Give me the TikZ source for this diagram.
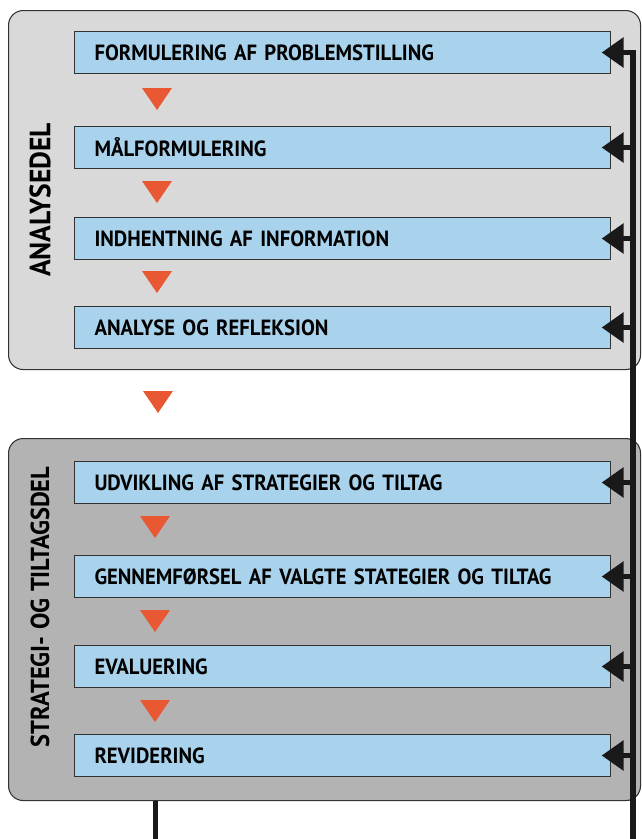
\documentclass[tikz,border=0pt]{standalone}
\usepackage{fontspec}
\setmainfont{PT Sans}[FakeStretch=0.94,WordSpace=0.6]
\usetikzlibrary{arrows.meta}
\definecolor{P1}{RGB}{217,217,217}
\definecolor{P2}{RGB}{179,179,179}
\definecolor{B1}{RGB}{169,211,236}
\definecolor{O1}{RGB}{232,88,50}
\definecolor{E1}{RGB}{50,50,50}

\begin{document}
\begin{tikzpicture}[x=0.75pt,y=-0.75pt,
    panel/.style={draw=E1, line width=0.8pt, rounded corners=11pt, anchor=north west,
                  minimum width=474pt, inner sep=0pt},
    box/.style={draw=E1, fill=B1, line width=0.75pt, anchor=north west,
                minimum width=402pt, minimum height=31.5pt, text width=372pt,
                inner xsep=15pt, inner ysep=0pt, align=left,
                font=\bfseries\fontsize{16.5}{17}\selectfont},
    side/.style={rotate=90, font=\bfseries\fontsize{22}{22}\selectfont},
    tri/.style={fill=O1},
    fb/.style={line width=3.9pt, black!90},
    fbarrow/.style={fb, -{Triangle[length=16.5pt,width=22pt]}, shorten >=-7pt}]
          \useasboundingbox (0,0) rectangle (642,839);
          % panels
          \node[panel, fill=P1, minimum height=269.25pt] (ana) at (8,10) {};
          \node[panel, fill=P2, minimum height=271.5pt] (low) at (8,438) {};
          \node[side] (lab1) at (40,200) {ANALYSEDEL};
          \node[side, font=\bfseries\fontsize{19.5}{20}\selectfont] (lab2) at (40,607)
               {STRATEGI-\hspace{5pt}OG\hspace{5pt}TILTAGSDEL};
          % steps
          \node[box] (b1) at (74,31) {FORMULERING AF PROBLEMSTILLING};
          \node[box] (b2) at (74,126) {MÅLFORMULERING};
          \node[box] (b3) at (74,217) {INDHENTNING AF INFORMATION};
          \node[box] (b4) at (74,306) {ANALYSE OG REFLEKSION};
          \node[box] (b5) at (74,461) {UDVIKLING AF STRATEGIER OG TILTAG};
          \node[box] (b6) at (74,555) {GENNEMFØRSEL AF VALGTE STATEGIER OG TILTAG};
          \node[box] (b7) at (74,645) {EVALUERING};
          \node[box] (b8) at (74,734) {REVIDERING};
          % triangles
          \fill[tri] (142,88) -- (172,88) -- (157,110) -- cycle;
          \fill[tri] (142,181) -- (172,181) -- (157,203) -- cycle;
          \fill[tri] (142,271) -- (172,271) -- (157,293) -- cycle;
          \fill[tri] (143,391) -- (173,391) -- (158,413) -- cycle;
          \fill[tri] (140,516) -- (170,516) -- (155,538) -- cycle;
          \fill[tri] (140,610) -- (170,610) -- (155,632) -- cycle;
          \fill[tri] (140,700) -- (170,700) -- (155,722) -- cycle;
          % feedback
          \coordinate (c0) at (155.5,843.5);
          \coordinate (c1) at (633,843.5);
          \draw[fbarrow] (c0 |- low.south) -- (c0) -- (c1) |- (b1.east);
          \draw[fbarrow] (b2.east -| c1) -- (b2.east);
          \draw[fbarrow] (b3.east -| c1) -- (b3.east);
          \draw[fbarrow] (b4.east -| c1) -- (b4.east);
          \draw[fbarrow] (b5.east -| c1) -- (b5.east);
          \draw[fbarrow] (b6.east -| c1) -- (b6.east);
          \draw[fbarrow] (b7.east -| c1) -- (b7.east);
          \draw[fbarrow] (b8.east -| c1) -- (b8.east);
\end{tikzpicture}
\end{document}
